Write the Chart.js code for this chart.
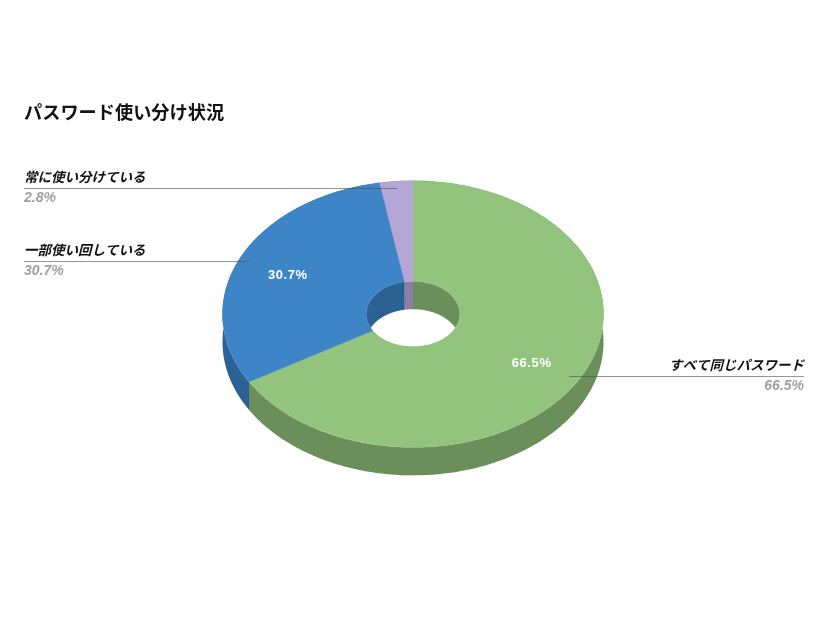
<!DOCTYPE html>
<html lang="ja">
<head>
<meta charset="utf-8">
<style>html,body{margin:0;padding:0;background:#fff}#wrap{width:826px;height:620px}canvas{display:block}</style>
<script src="https://cdn.jsdelivr.net/npm/chart.js@4/dist/chart.umd.min.js"></script>
</head>
<body>
<div id="wrap"><canvas id="c" width="826" height="620"></canvas></div>
<script>
const chartTitle = 'パスワード使い分け状況';
const categories = ['すべて同じパスワード', '一部使い回している', '常に使い分けている'];
const values = [66.5, 30.7, 2.8];
const topColors = ['#93c47d', '#3d85c6', '#b4a7d6'];
const sideColors = ['#6a8f5a', '#2c6194', '#8d7fa8'];

const FONT = '"Liberation Sans","Noto Sans CJK JP",sans-serif';
const TILT = 0.7, DEPTH = 28;

function wall(ctx, a, radius, color) {
  const cx = a.x, cy = a.y;
  const step = Math.PI / 180;
  ctx.beginPath();
  for (let t = a.startAngle; t < a.endAngle; t += step) {
    ctx.lineTo(cx + Math.cos(t) * radius, cy + Math.sin(t) * radius * TILT);
  }
  ctx.lineTo(cx + Math.cos(a.endAngle) * radius, cy + Math.sin(a.endAngle) * radius * TILT);
  for (let t = a.endAngle; t > a.startAngle; t -= step) {
    ctx.lineTo(cx + Math.cos(t) * radius, cy + DEPTH + Math.sin(t) * radius * TILT);
  }
  ctx.lineTo(cx + Math.cos(a.startAngle) * radius, cy + DEPTH + Math.sin(a.startAngle) * radius * TILT);
  ctx.closePath();
  ctx.fillStyle = color;
  ctx.fill('nonzero');
}

const pie3d = {
  id: 'pie3d',
  beforeDatasetsDraw(chart) {
    const ctx = chart.ctx, arcs = chart.getDatasetMeta(0).data;
    const cx = arcs[0].x, cy = arcs[0].y;
    arcs.forEach((a, i) => {
      wall(ctx, a, a.outerRadius, sideColors[i]);
      wall(ctx, a, a.innerRadius, sideColors[i]);
    });
    ctx.save();
    ctx.translate(cx, cy);
    ctx.scale(1, TILT);
    ctx.translate(-cx, -cy);
  },
  afterDatasetsDraw(chart) {
    const ctx = chart.ctx, arcs = chart.getDatasetMeta(0).data;
    ctx.restore();
    arcs.forEach((a, i) => {
      const mid = (a.startAngle + a.endAngle) / 2;
      const pct = values[i].toFixed(1) + '%';
      // leader line
      const ax = a.x + Math.cos(mid) * a.outerRadius * 0.945;
      const ay = Math.floor(a.y + Math.sin(mid) * a.outerRadius * 0.945 * TILT);
      const right = Math.cos(mid) > 0;
      const edge = right ? 804 : 24;
      ctx.save();
      ctx.strokeStyle = 'rgba(80,80,80,0.6)';
      ctx.lineWidth = 1;
      ctx.beginPath();
      ctx.moveTo(edge, ay + 0.5);
      ctx.lineTo(ax, ay + 0.5);
      ctx.stroke();
      ctx.textAlign = right ? 'right' : 'left';
      ctx.textBaseline = 'middle';
      ctx.font = 'italic bold 13.5px ' + FONT;
      ctx.fillStyle = '#111';
      ctx.fillText(categories[i], edge, ay - 9.5);
      ctx.font = 'italic bold 14px ' + FONT;
      ctx.fillStyle = '#a0a0a0';
      ctx.fillText(pct, edge, ay + 10.5);
      // value on slice
      if (values[i] > 5) {
        const r = a.outerRadius * 0.72;
        ctx.textAlign = 'center';
        ctx.font = 'bold 13px ' + FONT;
        ctx.letterSpacing = '0.6px';
        ctx.fillStyle = '#fff';
        ctx.fillText(pct, a.x + Math.cos(mid) * r - 0.5, a.y + Math.sin(mid) * r * TILT + 1.5);
      }
      ctx.restore();
    });
  }
};

new Chart(document.getElementById('c'), {
  type: 'doughnut',
  data: {
    labels: categories,
    datasets: [{
      data: values,
      backgroundColor: topColors,
      borderColor: topColors,
      borderWidth: 0.5,
      clip: false
    }]
  },
  plugins: [pie3d],
  options: {
    responsive: false,
    animation: false,
    radius: 190.5,
    cutout: 46.5,
    layout: { padding: { left: 24, right: 24, top: 0, bottom: 116.8 } },
    plugins: {
      legend: { display: false },
      tooltip: { enabled: false },
      title: {
        display: true,
        text: chartTitle,
        align: 'start',
        color: '#111',
        font: { family: FONT, size: 18.2, weight: 'bold', lineHeight: 1.2 },
        padding: { top: 103, bottom: 0 }
      }
    }
  }
});
</script>
</body>
</html>
